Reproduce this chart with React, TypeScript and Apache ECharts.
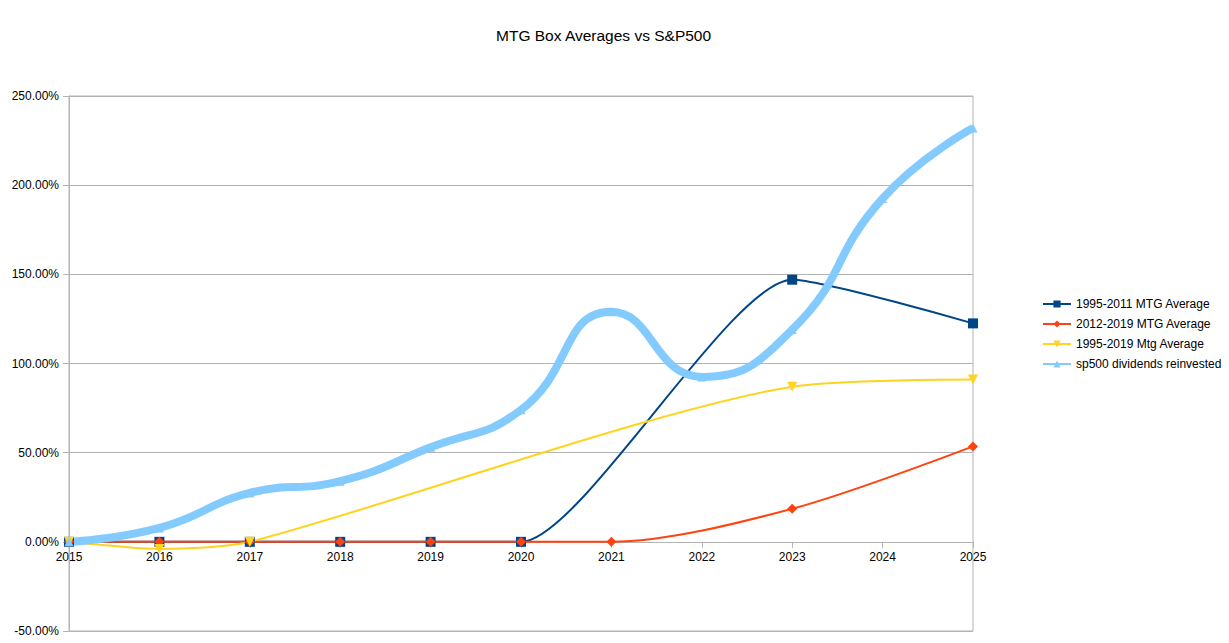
import React, { useEffect, useRef } from "react";
import * as echarts from "echarts";

const years = ["2015", "2016", "2017", "2018", "2019", "2020", "2021", "2022", "2023", "2024", "2025"];
const mtg1995_2011 = [0, 0, 0, 0, 0, 0, null, null, 147, null, 122.5];
const mtg2012_2019 = [0, 0, 0, 0, 0, 0, 0, null, 18.5, null, 53.5];
const mtg1995_2019 = [0, -4, 0, null, null, null, null, null, 87, null, 91];
const sp500 = [0, 7.8, 27.4, 34, 53, 74, 129, 92.5, 119, 192.5, 232];

const seriesNames = [
  "1995-2011 MTG Average",
  "2012-2019 MTG Average",
  "1995-2019 Mtg Average",
  "sp500 dividends reinvested",
];

const FONT = "'Liberation Sans', Arial, sans-serif";

export default function App() {
  const ref = useRef<HTMLDivElement>(null);
  useEffect(() => {
    document.body.style.margin = "0";
    const chart = echarts.init(ref.current!, null, { renderer: "svg" });
    chart.setOption({
      animation: false,
      backgroundColor: "#ffffff",
      title: {
        text: "MTG Box Averages vs S&P500",
        left: 491,
        top: 22,
        textStyle: { fontSize: 15.5, fontWeight: "normal", color: "#000", fontFamily: FONT },
      },
      legend: {
        orient: "vertical",
        left: 1037,
        top: 292,
        itemWidth: 28,
        itemHeight: 9,
        itemGap: 6,
        data: seriesNames,
        textStyle: { fontSize: 12, color: "#000", fontFamily: FONT, lineHeight: 14 },
      },
      grid: {
        left: 69,
        right: 256,
        top: 96,
        bottom: 12,
        show: true,
        borderColor: "#b3b3b3",
        borderWidth: 1,
        containLabel: false,
        outerBoundsMode: "none",
      },
      xAxis: {
        type: "category",
        data: years,
        boundaryGap: false,
        offset: -89.2,
        axisLine: { onZero: false, lineStyle: { color: "#b3b3b3", width: 1 } },
        axisTick: { show: true, length: 6, alignWithLabel: true, lineStyle: { color: "#b3b3b3" } },
        axisLabel: { color: "#000", fontSize: 12, fontFamily: FONT, margin: 9 },
        splitLine: { show: false },
      },
      yAxis: {
        type: "value",
        min: -50,
        max: 250,
        interval: 50,
        axisLine: { show: true, lineStyle: { color: "#b3b3b3", width: 1 } },
        axisTick: { show: true, length: 6, lineStyle: { color: "#b3b3b3" } },
        axisLabel: {
          color: "#000",
          fontSize: 12,
          fontFamily: FONT,
          margin: 10,
          formatter: (v: number) => v.toFixed(2) + "%",
        },
        splitLine: { show: true, lineStyle: { color: "#b3b3b3", width: 1 } },
      },
      series: [
        {
          name: seriesNames[0],
          type: "line",
          data: mtg1995_2011,
          connectNulls: true,
          smooth: 0.2,
          symbol: "rect",
          symbolSize: 10,
          showAllSymbol: true,
          lineStyle: { color: "#004586", width: 2 },
          itemStyle: { color: "#004586" },
        },
        {
          name: seriesNames[1],
          type: "line",
          data: mtg2012_2019,
          connectNulls: true,
          smooth: 0.3,
          symbol: "diamond",
          symbolSize: 10,
          showAllSymbol: true,
          lineStyle: { color: "#ff420e", width: 2 },
          itemStyle: { color: "#ff420e" },
        },
        {
          name: seriesNames[2],
          type: "line",
          data: mtg1995_2019,
          connectNulls: true,
          smooth: 0.25,
          symbol: "triangle",
          symbolRotate: 180,
          symbolSize: 10,
          showAllSymbol: true,
          lineStyle: { color: "#ffd320", width: 2 },
          itemStyle: { color: "#ffd320" },
        },
        {
          name: seriesNames[3],
          type: "line",
          data: sp500,
          connectNulls: true,
          smooth: 0.5,
          symbol: "triangle",
          symbolSize: 9,
          showAllSymbol: true,
          lineStyle: { color: "#83caff", width: 8 },
          itemStyle: { color: "#83caff" },
        },
      ],
    });
    return () => chart.dispose();
  }, []);
  return <div ref={ref} style={{ position: "fixed", left: 0, top: 0, width: 1229, height: 643 }} />;
}
